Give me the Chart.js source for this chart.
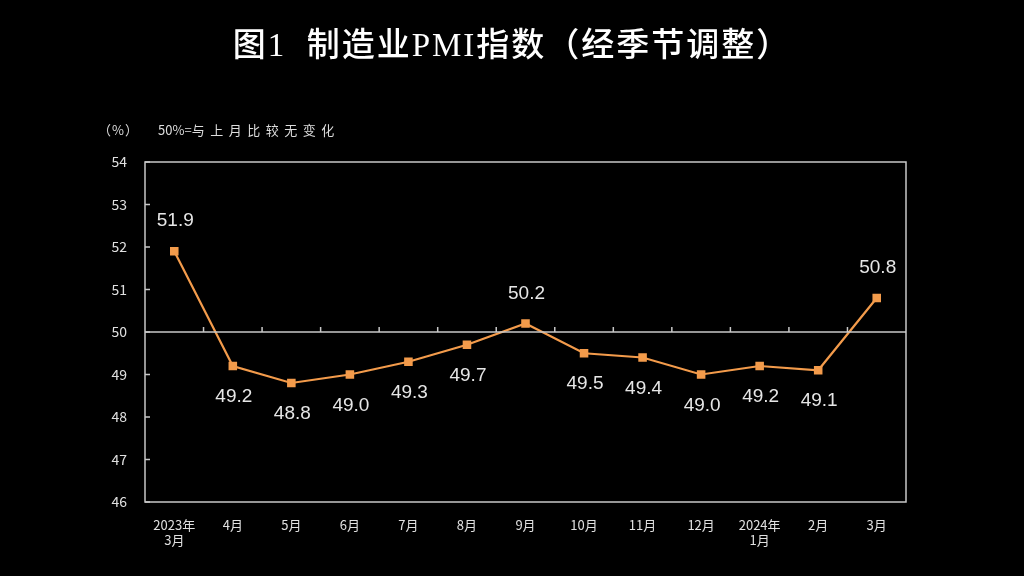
<!DOCTYPE html>
<html><head><meta charset="utf-8">
<script src="https://cdn.jsdelivr.net/npm/chart.js@4/dist/chart.umd.min.js"></script>
<style>
html,body{margin:0;padding:0;background:#000;width:1024px;height:576px;overflow:hidden;}
#wrap{position:relative;width:1024px;height:576px;}
canvas{position:absolute;left:0;top:0;}
.t{position:absolute;color:#fff;white-space:nowrap;}
#title{left:0;width:1024px;top:18px;text-align:center;font:500 33px "Liberation Serif","Noto Sans CJK SC",serif;letter-spacing:2px;}
#unit{left:98px;top:120px;font:13px "Noto Sans CJK SC",sans-serif;color:#ddd;letter-spacing:1px;}
#note{left:158px;top:120px;font:13px "Noto Sans CJK SC",sans-serif;color:#ddd;}
#note span{letter-spacing:5.5px;}
</style></head>
<body><div id="wrap">
<canvas id="c" width="1024" height="576"></canvas>
<div class="t" id="title">图1&nbsp;&nbsp;制造业PMI指数（经季节调整）</div>
<div class="t" id="unit">（%）</div>
<div class="t" id="note">50%=<span>与上月比较无变化</span></div>
</div>
<script>
const categories = [["2023年","3月"],"4月","5月","6月","7月","8月","9月","10月","11月","12月",["2024年","1月"],"2月","3月"];
const pmiValues = [51.9,49.2,48.8,49.0,49.3,49.7,50.2,49.5,49.4,49.0,49.2,49.1,50.8];
const labelsAbove = [true,false,false,false,false,false,true,false,false,false,false,false,true];
const yTicks = [46,47,48,49,50,51,52,53,54];

const axisColor = '#c8c8c8';
const lineColor = '#f39b4b';

const framePlugin = {
  id:'frame',
  afterDatasetsDraw(chart){
    const {ctx, chartArea:a, scales:{x,y}} = chart;
    ctx.save();
    ctx.strokeStyle = axisColor; ctx.lineWidth = 1.5;
    ctx.strokeRect(a.left, a.top, a.right-a.left, a.bottom-a.top);
    yTicks.forEach(v=>{const py=y.getPixelForValue(v);ctx.beginPath();ctx.moveTo(a.left,py);ctx.lineTo(a.left+5,py);ctx.stroke();});
    const p50 = y.getPixelForValue(50);
    ctx.beginPath();ctx.moveTo(a.left,p50);ctx.lineTo(a.right,p50);ctx.stroke();
    const n = categories.length;
    for(let i=1;i<n;i++){
      const bx = (x.getPixelForValue(i-1)+x.getPixelForValue(i))/2;
      ctx.beginPath();ctx.moveTo(bx,p50);ctx.lineTo(bx,p50-5);ctx.stroke();
    }
    ctx.restore();
  },
  afterDraw(chart){
    const {ctx} = chart;
    const meta = chart.getDatasetMeta(0);
    ctx.save();
    ctx.fillStyle = '#e6e6e6';
    ctx.font = '19px "Liberation Sans", Arial, sans-serif';
    ctx.textAlign = 'center'; ctx.textBaseline='middle';
    meta.data.forEach((pt,i)=>{
      const dy = labelsAbove[i] ? -30 : 31;
      ctx.fillText(pmiValues[i].toFixed(1), pt.x+1, pt.y+dy);
    });
    ctx.restore();
  }
};

new Chart(document.getElementById('c'),{
  type:'line',
  data:{labels:categories,datasets:[{data:pmiValues,borderColor:lineColor,backgroundColor:lineColor,borderWidth:2.2,pointStyle:'rect',pointRadius:4.5,pointHoverRadius:4.5,tension:0}]},
  options:{
    responsive:false,animation:false,devicePixelRatio:1,
    layout:{padding:{left:0,right:118,top:162,bottom:0}},
    plugins:{legend:{display:false},tooltip:{enabled:false}},
    scales:{
      x:{type:'category',offset:true,
        grid:{display:false,drawTicks:false},border:{display:false},
        ticks:{color:'#e0e0e0',font:{family:'"Noto Sans CJK SC", sans-serif',size:13},padding:15,maxRotation:0,autoSkip:false},
        afterFit(s){s.height=74;}},
      y:{min:46,max:54,
        grid:{display:false,drawTicks:false},border:{display:false},
        ticks:{stepSize:1,color:'#e0e0e0',font:{family:'"Noto Sans CJK SC", sans-serif',size:14},padding:18},
        afterFit(s){s.width=145;}}
    }
  },
  plugins:[framePlugin]
});
</script>
</body></html>
